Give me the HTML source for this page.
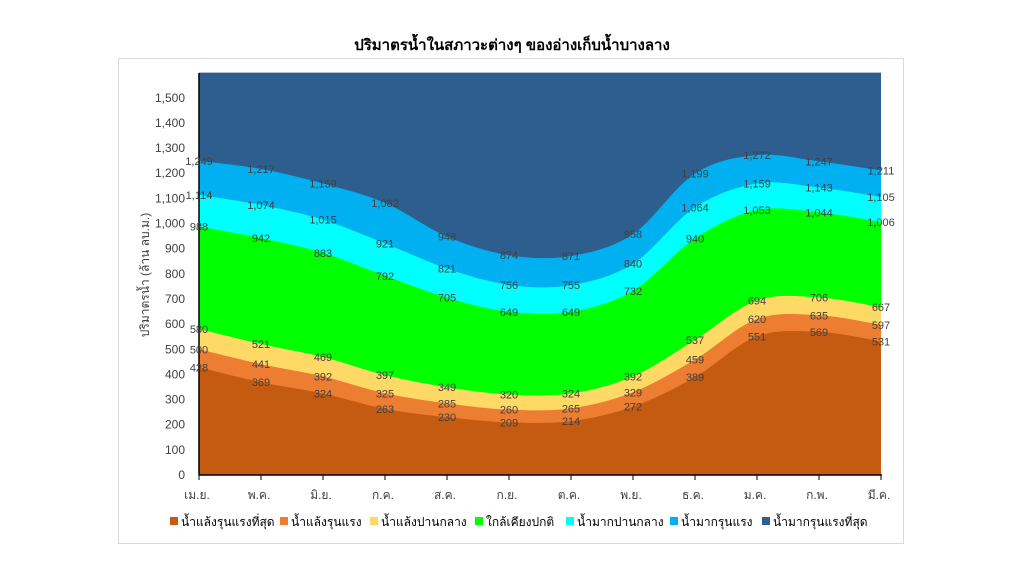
<!DOCTYPE html>
<html><head><meta charset="utf-8"><style>
body{margin:0;background:#fff;width:1024px;height:576px;overflow:hidden}
svg text{font-family:"Liberation Sans","Noto Sans CJK SC",sans-serif}
</style></head><body>
<svg id="s" width="1024" height="576" xmlns="http://www.w3.org/2000/svg">
<rect x="118.5" y="58.5" width="785" height="485" fill="#fff" stroke="#d9d9d9"/>
<text x="512" y="50" text-anchor="middle" font-size="15" font-weight="bold" fill="#000">ปริมาตรน้ำในสภาวะต่างๆ ของอ่างเก็บน้ำบางลาง</text>
<g id="areas"></g>
<line x1="199" y1="73" x2="199" y2="475" stroke="#000" stroke-width="1.5"/>
<line x1="199" y1="475" x2="882" y2="475" stroke="#000" stroke-width="1.5"/>
<g id="ticks" font-size="12" fill="#404040"></g>
<g id="labels" font-size="11" fill="#404040" text-anchor="middle"></g>
<text transform="translate(149,275) rotate(-90)" text-anchor="middle" font-size="12" fill="#404040">ปริมาตรน้ำ (ล้าน ลบ.ม.)</text>
<g font-size="12" fill="#000">
<rect x="170" y="517" width="8" height="8" fill="#C55A11"/><text x="181" y="526">น้ำแล้งรุนแรงที่สุด</text>
<rect x="280" y="517" width="8" height="8" fill="#ED7D31"/><text x="291" y="526">น้ำแล้งรุนแรง</text>
<rect x="370" y="517" width="8" height="8" fill="#FFD966"/><text x="381" y="526">น้ำแล้งปานกลาง</text>
<rect x="475" y="517" width="8" height="8" fill="#00FF00"/><text x="486" y="526">ใกล้เคียงปกติ</text>
<rect x="566" y="517" width="8" height="8" fill="#00FFFF"/><text x="577" y="526">น้ำมากปานกลาง</text>
<rect x="670" y="517" width="8" height="8" fill="#00B0F0"/><text x="681" y="526">น้ำมากรุนแรง</text>
<rect x="762" y="517" width="8" height="8" fill="#2E5E8E"/><text x="773" y="526">น้ำมากรุนแรงที่สุด</text>
</g>
</svg>
<script>
var NS="http://www.w3.org/2000/svg";
var data=[
[1600,1600,1600,1600,1600,1600,1600,1600,1600,1600,1600,1600],
[1249,1217,1159,1082,948,874,871,958,1199,1272,1247,1211],
[1114,1074,1015,921,821,756,755,840,1064,1159,1143,1105],
[988,942,883,792,705,649,649,732,940,1053,1044,1006],
[580,521,469,397,349,320,324,392,537,694,706,667],
[500,441,392,325,285,260,265,329,459,620,635,597],
[428,369,324,263,230,209,214,272,389,551,569,531]];
var cols=["#2E5E8E","#00B0F0","#00FFFF","#00FF00","#FFD966","#ED7D31","#C55A11"];
function X(i){return 199+62*i}
function Y(v){return 475-0.2515*v}
var ga=document.getElementById("areas"),gl=document.getElementById("labels"),gt=document.getElementById("ticks");
data.forEach(function(d,k){
  var p=d.map(function(v,i){return [X(i),Y(v)]});
  var s="M"+p[0][0]+","+p[0][1];
  for(var i=0;i<p.length-1;i++){
    var p0=p[i-1]||p[i],p1=p[i],p2=p[i+1],p3=p[i+2]||p[i+1],t=1/6;
    s+=" C"+(p1[0]+(p2[0]-p0[0])*t)+","+(p1[1]+(p2[1]-p0[1])*t)+" "+(p2[0]-(p3[0]-p1[0])*t)+","+(p2[1]-(p3[1]-p1[1])*t)+" "+p2[0]+","+p2[1];
  }
  s+=" L"+X(11)+",475 L199,475Z";
  var e=document.createElementNS(NS,"path");e.setAttribute("d",s);e.setAttribute("fill",cols[k]);ga.appendChild(e);
  if(k>0)d.forEach(function(v,i){
    var t=document.createElementNS(NS,"text");t.setAttribute("x",X(i));t.setAttribute("y",Y(v)+4);
    t.textContent=v.toLocaleString("en-US");gl.appendChild(t);
  });
});
for(var v=0;v<=1500;v+=100){
  var t=document.createElementNS(NS,"text");t.setAttribute("x",185);t.setAttribute("y",Y(v)+4);t.setAttribute("text-anchor","end");
  t.textContent=v.toLocaleString("en-US");gt.appendChild(t);
}
var m=["เม.ย.","พ.ค.","มิ.ย.","ก.ค.","ส.ค.","ก.ย.","ต.ค.","พ.ย.","ธ.ค.","ม.ค.","ก.พ.","มี.ค."];
m.forEach(function(s,i){
  var t=document.createElementNS(NS,"text");t.setAttribute("x",X(i)-2);t.setAttribute("y",499);t.setAttribute("text-anchor","middle");
  t.textContent=s;gt.appendChild(t);
  var l=document.createElementNS(NS,"line");l.setAttribute("x1",X(i));l.setAttribute("x2",X(i));l.setAttribute("y1",475);l.setAttribute("y2",480);l.setAttribute("stroke","#000");gt.appendChild(l);
});
</script>
</body></html>
